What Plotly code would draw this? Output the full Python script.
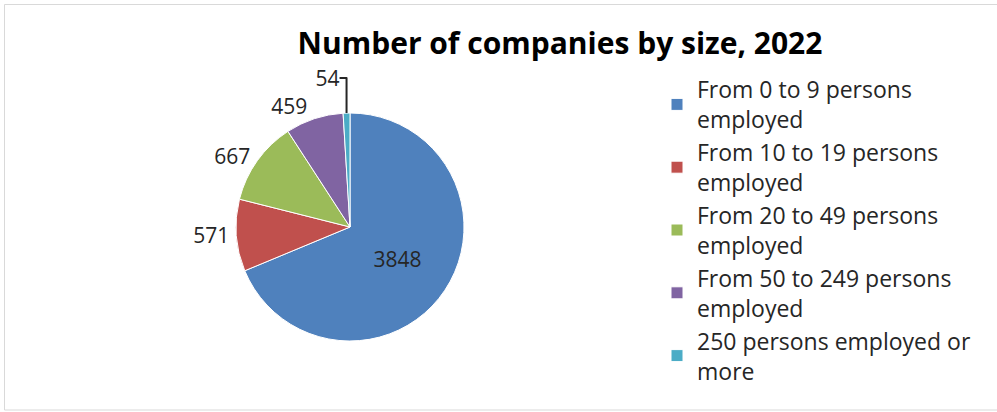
import plotly.graph_objects as go

categories = [
    "From 0 to 9 persons<br>employed",
    "From 10 to 19 persons<br>employed",
    "From 20 to 49 persons<br>employed",
    "From 50 to 249 persons<br>employed",
    "250 persons employed or<br>more",
]
values = [3848, 571, 667, 459, 54]
colors = ["#4F81BD", "#C0504D", "#9BBB59", "#8064A2", "#4BACC6"]
text_positions = ["inside", "outside", "outside", "outside", "outside"]
title_text = "Number of companies by size, 2022"

W, H = 997, 412
FONT = "Open Sans"

fig = go.Figure(
    go.Pie(
        labels=categories,
        values=values,
        sort=False,
        direction="clockwise",
        rotation=0,
        marker=dict(colors=colors, line=dict(color="white", width=1)),
        textinfo="value",
        textposition=text_positions,
        insidetextorientation="horizontal",
        textfont=dict(family=FONT, size=21, color="#262626"),
        domain=dict(x=[236 / W, 464 / W], y=[1 - 341 / H, 1 - 113 / H]),
        hoverinfo="label+value",
    )
)

fig.update_layout(
    width=W,
    height=H,
    margin=dict(l=0, r=0, t=0, b=0),
    paper_bgcolor="white",
    plot_bgcolor="white",
    title=dict(
        text="<b>" + title_text + "</b>",
        x=560 / W,
        xanchor="center",
        y=1 - 43 / H,
        yanchor="middle",
        font=dict(family=FONT, size=30, color="#000000"),
    ),
    legend=dict(
        x=657 / W,
        xanchor="left",
        y=1 - 68 / H,
        yanchor="top",
        font=dict(family=FONT, size=23, color="#262626"),
        bgcolor="rgba(0,0,0,0)",
    ),
    showlegend=True,
    shapes=[
        dict(
            type="rect",
            xref="paper",
            yref="paper",
            x0=4.5 / W,
            x1=1.01,
            y0=1 - 410 / H,
            y1=1 - 4.5 / H,
            line=dict(color="#D9D9D9", width=1),
            fillcolor="rgba(0,0,0,0)",
            layer="below",
        )
    ],
)

fig.write_html("out.html")
